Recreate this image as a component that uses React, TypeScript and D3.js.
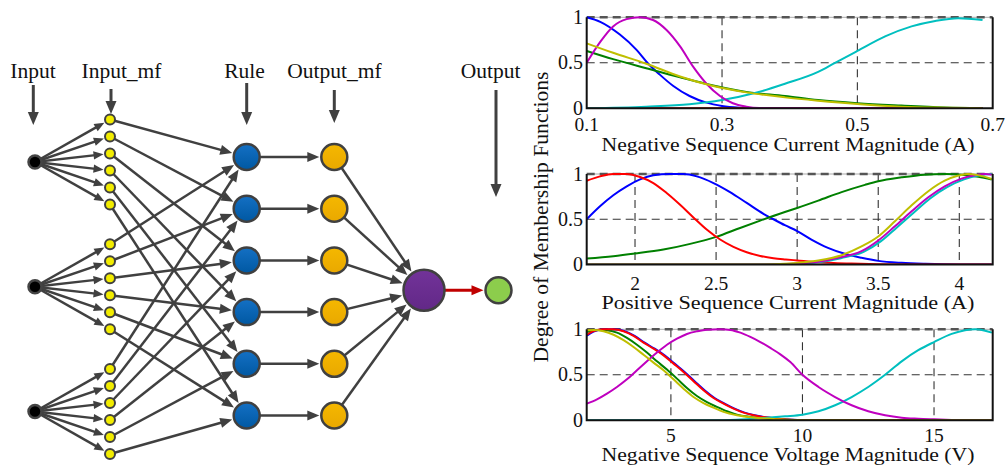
import React from 'react';
import * as d3 from 'd3';

const W = 1006;
const H = 468;

// ---------------- Diagram data ----------------
const LAYER_KEYS = ['in', 'mf', 'rule', 'omf', 'sum', 'out'];
const LAYER_LABELS = ['Input', 'Input_mf', 'Rule', 'Output_mf', 'Output'];
const LABEL_LAYER = ['in', 'mf', 'rule', 'omf', 'out'];
const INPUT_IDS = [0, 1, 2];
const MF_IDS = [0, 1, 2, 3, 4, 5];
const RULE_IDS = [0, 1, 2, 3, 4, 5];

// ---------------- Membership-function data ----------------
type Pt = [number, number];

const p1Blue: Pt[] = [[0.1, 1.0], [0.12, 0.95], [0.149, 0.81], [0.174, 0.64], [0.191, 0.49], [0.208, 0.37], [0.228, 0.245], [0.252, 0.135], [0.277, 0.062], [0.3, 0.026], [0.326, 0.007], [0.35, 0], [0.685, 0]];
const p1Green: Pt[] = [[0.1, 0.63], [0.139, 0.54], [0.188, 0.44], [0.238, 0.34], [0.287, 0.25], [0.336, 0.18], [0.393, 0.135], [0.442, 0.09], [0.5, 0.055], [0.565, 0.03], [0.63, 0.01], [0.685, 0.002]];
const p1Red: Pt[] = [[0.1, 0], [0.685, 0]];
const p1Cyan: Pt[] = [[0.1, 0], [0.188, 0.018], [0.252, 0.044], [0.3, 0.09], [0.35, 0.17], [0.393, 0.27], [0.442, 0.4], [0.467, 0.5], [0.5, 0.63], [0.541, 0.79], [0.58, 0.9], [0.615, 0.96], [0.649, 0.99], [0.685, 0.97]];
const p1Magenta: Pt[] = [[0.1, 0.5], [0.12, 0.73], [0.139, 0.9], [0.159, 0.98], [0.179, 1.0], [0.198, 0.97], [0.218, 0.86], [0.238, 0.68], [0.257, 0.46], [0.277, 0.27], [0.297, 0.135], [0.316, 0.055], [0.336, 0.018], [0.355, 0.003], [0.38, 0], [0.685, 0]];
const p1Yellow: Pt[] = [[0.1, 0.714], [0.139, 0.61], [0.188, 0.49], [0.238, 0.35], [0.287, 0.245], [0.336, 0.175], [0.393, 0.12], [0.442, 0.084], [0.5, 0.048], [0.565, 0.018], [0.63, 0.007], [0.685, 0.001]];

const p2Blue: Pt[] = [[1.702, 0.5], [1.784, 0.643], [1.866, 0.765], [1.949, 0.864], [2.031, 0.94], [2.113, 0.985], [2.216, 1.0], [2.298, 1.0], [2.381, 0.974], [2.484, 0.9], [2.586, 0.8], [2.689, 0.68], [2.792, 0.56], [2.854, 0.5], [2.924, 0.434], [3.0, 0.37], [3.088, 0.276], [3.19, 0.184], [3.294, 0.118], [3.397, 0.074], [3.5, 0.04], [3.644, 0.018], [3.79, 0.007], [4.0, 0], [4.2, 0]];
const p2Green: Pt[] = [[1.702, 0.066], [1.866, 0.092], [2.0, 0.121], [2.175, 0.165], [2.34, 0.228], [2.5, 0.305], [2.648, 0.404], [2.772, 0.485], [2.924, 0.58], [3.0, 0.625], [3.13, 0.706], [3.274, 0.8], [3.418, 0.88], [3.5, 0.92], [3.644, 0.963], [3.788, 0.993], [3.91, 1.0], [4.035, 0.99], [4.117, 0.97], [4.2, 0.94]];
const p2Red: Pt[] = [[1.702, 0.926], [1.784, 0.974], [1.866, 1.0], [1.949, 1.0], [2.031, 0.967], [2.113, 0.9], [2.195, 0.79], [2.278, 0.66], [2.36, 0.52], [2.442, 0.386], [2.525, 0.276], [2.607, 0.195], [2.689, 0.136], [2.772, 0.095], [2.854, 0.07], [2.93, 0.056], [3.0, 0.045], [3.13, 0.025], [3.335, 0.01], [3.5, 0.003], [3.7, 0], [4.2, 0]];
const p2Cyan: Pt[] = [[1.702, 0], [2.8, 0], [3.0, 0.008], [3.13, 0.025], [3.27, 0.07], [3.41, 0.14], [3.515, 0.255], [3.615, 0.41], [3.72, 0.575], [3.82, 0.73], [3.925, 0.855], [4.03, 0.94], [4.11, 0.98], [4.17, 0.997], [4.2, 1.0]];
const p2Magenta: Pt[] = [[1.702, 0], [2.8, 0], [3.0, 0.011], [3.13, 0.03], [3.253, 0.074], [3.397, 0.147], [3.5, 0.265], [3.603, 0.423], [3.706, 0.588], [3.809, 0.743], [3.91, 0.864], [4.014, 0.949], [4.097, 0.985], [4.158, 1.0], [4.2, 0.993]];
const p2Yellow: Pt[] = [[1.702, 0], [2.8, 0], [2.924, 0.007], [3.0, 0.018], [3.13, 0.044], [3.274, 0.103], [3.397, 0.2], [3.5, 0.31], [3.603, 0.478], [3.706, 0.654], [3.809, 0.81], [3.91, 0.926], [3.99, 0.98], [4.05, 1.0], [4.12, 0.985], [4.2, 0.945]];

const p3Blue: Pt[] = [[1.806, 0.93], [2.06, 0.975], [2.5, 1.0], [2.9, 1.0], [3.25, 0.978], [3.62, 0.927], [4.0, 0.853], [4.38, 0.787], [4.76, 0.714], [5.14, 0.623], [5.52, 0.531], [5.9, 0.43], [6.28, 0.33], [6.66, 0.245], [7.04, 0.183], [7.42, 0.128], [7.8, 0.084], [8.18, 0.055], [8.7, 0.03], [9.2, 0.015], [9.6, 0.007], [10.5, 0], [17.2, 0]];
const p3Green: Pt[] = [[1.806, 0.97], [2.19, 0.993], [2.57, 0.99], [2.95, 0.963], [3.33, 0.905], [3.71, 0.83], [4.09, 0.744], [4.47, 0.648], [4.85, 0.557], [5.23, 0.458], [5.61, 0.355], [5.99, 0.267], [6.37, 0.2], [6.75, 0.147], [7.13, 0.099], [7.51, 0.062], [8.02, 0.037], [8.65, 0.018], [9.41, 0.007], [10.3, 0], [17.2, 0]];
const p3Red: Pt[] = [[1.806, 0.94], [2.06, 0.98], [2.44, 1.0], [2.82, 1.0], [3.2, 0.978], [3.58, 0.927], [3.96, 0.853], [4.34, 0.787], [4.72, 0.714], [5.1, 0.623], [5.48, 0.531], [5.86, 0.43], [6.24, 0.33], [6.62, 0.245], [7.0, 0.183], [7.38, 0.128], [7.76, 0.084], [8.14, 0.055], [8.65, 0.03], [9.16, 0.015], [9.54, 0.007], [10.5, 0], [17.2, 0]];
const p3Cyan: Pt[] = [[1.806, 0], [6.5, 0], [7.5, 0.006], [8.0, 0.015], [8.65, 0.028], [9.34, 0.044], [10.0, 0.062], [10.61, 0.099], [11.24, 0.165], [11.87, 0.256], [12.5, 0.366], [13.14, 0.5], [13.77, 0.648], [14.4, 0.77], [15.0, 0.86], [15.67, 0.95], [16.18, 0.99], [16.56, 1.0], [16.94, 0.985], [17.2, 0.963]];
const p3Magenta: Pt[] = [[1.806, 0.183], [2.19, 0.23], [2.57, 0.293], [2.95, 0.366], [3.33, 0.45], [3.71, 0.55], [4.09, 0.648], [4.47, 0.744], [4.85, 0.83], [5.23, 0.897], [5.61, 0.949], [5.99, 0.978], [6.37, 0.996], [6.88, 1.0], [7.26, 0.993], [7.64, 0.963], [8.02, 0.916], [8.4, 0.86], [8.78, 0.795], [9.16, 0.725], [9.54, 0.64], [10.0, 0.5], [10.61, 0.366], [11.24, 0.256], [11.87, 0.165], [12.5, 0.099], [13.14, 0.055], [13.77, 0.029], [14.4, 0.018], [15.0, 0.011], [15.67, 0.004], [16.3, 0], [17.2, 0]];
const p3Yellow: Pt[] = [[1.806, 0.99], [2.06, 0.993], [2.44, 0.978], [2.82, 0.94], [3.2, 0.88], [3.58, 0.806], [3.96, 0.72], [4.34, 0.634], [4.72, 0.55], [5.1, 0.45], [5.48, 0.348], [5.86, 0.256], [6.24, 0.19], [6.62, 0.139], [7.0, 0.092], [7.51, 0.055], [8.14, 0.03], [8.9, 0.015], [9.54, 0.004], [10.5, 0], [17.2, 0]];

const SERIES_COLORS = ['#0000ff', '#008000', '#ff0000', '#00bfbf', '#bf00bf', '#bfbf00'];

const p1XTicks = [0.1, 0.3, 0.5, 0.7];
const p2XTicks = [2, 2.5, 3, 3.5, 4];
const p3XTicks = [5, 10, 15];
const yTicks = [0, 0.5, 1];

const plots = [
  {
    top: 17.3, bottom: 108.3, domain: [0.1, 0.7], ticks: p1XTicks, fmt: (v: number) => v.toFixed(1),
    tickBase: 131, label: 'Negative Sequence Current Magnitude (A)', labelBase: 150.5,
    series: [p1Blue, p1Green, p1Red, p1Cyan, p1Magenta, p1Yellow],
  },
  {
    top: 174, bottom: 264.5, domain: [1.702, 4.206], ticks: p2XTicks, fmt: (v: number) => String(v),
    tickBase: 289.5, label: 'Positive Sequence Current Magnitude (A)', labelBase: 309,
    series: [p2Blue, p2Green, p2Red, p2Cyan, p2Magenta, p2Yellow],
  },
  {
    top: 329.3, bottom: 420.3, domain: [1.8, 17.23], ticks: p3XTicks, fmt: (v: number) => String(v),
    tickBase: 441.5, label: 'Negative Sequence Voltage Magnitude (V)', labelBase: 461,
    series: [p3Blue, p3Green, p3Red, p3Cyan, p3Magenta, p3Yellow],
  },
];

const PLOT_LEFT = 586.7;
const PLOT_RIGHT = 992.7;
const FONT = "'Liberation Serif', 'Times New Roman', serif";

function Arrow({ x1, y1, x2, y2, r1 = 0, r2 = 0, color = '#404040', width = 2.5, hl = 12, hw = 5 }:
  { x1: number; y1: number; x2: number; y2: number; r1?: number; r2?: number; color?: string; width?: number; hl?: number; hw?: number }) {
  const dx = x2 - x1, dy = y2 - y1;
  const len = Math.hypot(dx, dy);
  const ux = dx / len, uy = dy / len;
  const sx = x1 + ux * r1, sy = y1 + uy * r1;
  const tx = x2 - ux * r2, ty = y2 - uy * r2;
  const bx = tx - ux * hl, by = ty - uy * hl;
  const px = -uy, py = ux;
  const head = `M${tx},${ty}L${bx + px * hw},${by + py * hw}L${bx - px * hw},${by - py * hw}Z`;
  return (
    <g>
      <line x1={sx} y1={sy} x2={bx + ux * 2} y2={by + uy * 2} stroke={color} strokeWidth={width} />
      <path d={head} fill={color} />
    </g>
  );
}

function Diagram() {
  const layerX = d3.scaleOrdinal<string, number>().domain(LAYER_KEYS).range([35, 110, 246.7, 334.3, 424, 498.5]);
  const inputY = d3.scalePoint<number>().domain(INPUT_IDS).range([162, 411.5]);
  const mfOff = d3.scalePoint<number>().domain(MF_IDS).range([-42.5, 42.5]);
  const ruleY = d3.scalePoint<number>().domain(RULE_IDS).range([157, 415.5]);
  const sumY = (ruleY(2)! + ruleY(3)!) / 2 + 4;
  const R = { in: 6.5, mf: 5, rule: 13, omf: 13, sum: 20.5, out: 13 };
  const stroke = '#404040';

  const mfNodes = INPUT_IDS.flatMap((g) => MF_IDS.map((k) => ({ g, k, y: inputY(g)! + mfOff(k)! })));

  const labelArrows = [
    { key: 'in', y1: 85, y2: 125 },
    { key: 'mf', y1: 89, y2: 114 },
    { key: 'rule', y1: 83, y2: 125 },
    { key: 'omf', y1: 90, y2: 123 },
    { key: 'out', y1: 90, y2: 197 },
  ];
  const labelX: Record<string, number> = { in: 33, mf: 121.5, rule: 244.5, omf: 334.5, out: 490.5 };
  const arrowX: Record<string, number> = { in: 33.3, mf: 111, rule: 246.7, omf: 334.3, out: 496 };

  return (
    <g>
      {LAYER_LABELS.map((t, i) => (
        <text key={t} x={labelX[LABEL_LAYER[i]]} y={77.7} textAnchor="middle" fontFamily={FONT} fontSize={21.5} fill="#111">{t}</text>
      ))}
      {labelArrows.map((a) => (
        <Arrow key={a.key} x1={arrowX[a.key]} y1={a.y1} x2={arrowX[a.key]} y2={a.y2} width={3} hl={13} hw={5.5} />
      ))}
      {mfNodes.map((m) => (
        <Arrow key={`im${m.g}${m.k}`} x1={layerX('in')} y1={inputY(m.g)!} x2={layerX('mf')} y2={m.y} r1={0} r2={R.mf + 1.5} hl={10} hw={4.2} />
      ))}
      {mfNodes.map((m) => (
        <Arrow key={`mr${m.g}${m.k}`} x1={layerX('mf')} y1={m.y} x2={layerX('rule')} y2={ruleY(m.k)!} r1={0} r2={R.rule + 2} hl={12} hw={5} />
      ))}
      {RULE_IDS.map((k) => (
        <Arrow key={`ro${k}`} x1={layerX('rule')} y1={ruleY(k)!} x2={layerX('omf')} y2={ruleY(k)!} r1={0} r2={R.omf + 2} hl={12} hw={5} />
      ))}
      {RULE_IDS.map((k) => (
        <Arrow key={`os${k}`} x1={layerX('omf')} y1={ruleY(k)!} x2={layerX('sum')} y2={sumY} r1={0} r2={R.sum + 2} hl={12} hw={5} />
      ))}
      <Arrow x1={layerX('sum')} y1={sumY} x2={layerX('out')} y2={sumY} r1={R.sum} r2={R.out + 2} color="#c00000" width={3} hl={12} hw={5} />

      {INPUT_IDS.map((g) => (
        <circle key={`in${g}`} cx={layerX('in')} cy={inputY(g)} r={R.in} fill="#000" stroke="#444" strokeWidth={2.5} />
      ))}
      {mfNodes.map((m) => (
        <circle key={`mf${m.g}${m.k}`} cx={layerX('mf')} cy={m.y} r={R.mf} fill="#f2ec00" stroke={stroke} strokeWidth={2} />
      ))}
      {RULE_IDS.map((k) => (
        <circle key={`r${k}`} cx={layerX('rule')} cy={ruleY(k)} r={R.rule} fill="url(#gBlue)" stroke={stroke} strokeWidth={2.5} />
      ))}
      {RULE_IDS.map((k) => (
        <circle key={`o${k}`} cx={layerX('omf')} cy={ruleY(k)} r={R.omf} fill="url(#gOrange)" stroke={stroke} strokeWidth={2.5} />
      ))}
      <circle cx={layerX('sum')} cy={sumY} r={R.sum} fill="url(#gPurple)" stroke={stroke} strokeWidth={2.5} />
      <circle cx={layerX('out')} cy={sumY} r={R.out} fill="#8ccd4c" stroke={stroke} strokeWidth={2.5} />
    </g>
  );
}

function MFPlot({ p, idx }: { p: typeof plots[number]; idx: number }) {
  const x = d3.scaleLinear().domain(p.domain).range([PLOT_LEFT, PLOT_RIGHT]);
  const y = d3.scaleLinear().domain([0, 1]).range([p.bottom, p.top]);
  const line = d3.line<Pt>().x((d) => x(d[0])).y((d) => y(d[1])).curve(d3.curveMonotoneX);
  const clipId = `clip${idx}`;
  return (
    <g>
      <defs>
        <clipPath id={clipId}>
          <rect x={PLOT_LEFT} y={p.top - 1.5} width={PLOT_RIGHT - PLOT_LEFT} height={p.bottom - p.top + 2} />
        </clipPath>
      </defs>
      {p.ticks.filter((t) => x(t) > PLOT_LEFT + 2 && x(t) < PLOT_RIGHT - 2).map((t) => (
        <line key={`gx${t}`} x1={x(t)} x2={x(t)} y1={p.top} y2={p.bottom} stroke="#333" strokeWidth={1.1} strokeDasharray="8,5" />
      ))}
      {yTicks.filter((t) => t > 0 && t < 1).map((t) => (
        <line key={`gy${t}`} x1={PLOT_LEFT} x2={PLOT_RIGHT} y1={y(t)} y2={y(t)} stroke="#333" strokeWidth={1.1} strokeDasharray="8,5" />
      ))}
      <line x1={PLOT_LEFT} x2={PLOT_RIGHT} y1={p.top} y2={p.top} stroke="#aaa" strokeWidth={1} />
      <line x1={PLOT_LEFT} x2={PLOT_RIGHT} y1={p.top} y2={p.top} stroke="#555" strokeWidth={2.6} strokeDasharray="8,5" />
      <g clipPath={`url(#${clipId})`}>
        {p.series.map((s, i) => (
          <path key={i} d={line(s) || ''} fill="none" stroke={SERIES_COLORS[i]} strokeWidth={2} />
        ))}
      </g>
      <path d={`M${PLOT_LEFT},${p.top}V${p.bottom}H${PLOT_RIGHT}V${p.top}`} fill="none" stroke="#111" strokeWidth={2} />
      {p.ticks.map((t) => (
        <text key={`tx${t}`} x={x(t)} y={p.tickBase} textAnchor="middle" fontFamily={FONT} fontSize={19.5} fill="#111">{p.fmt(t)}</text>
      ))}
      {yTicks.map((t) => (
        <text key={`ty${t}`} x={583} y={y(t) + 6.5} textAnchor="end" fontFamily={FONT} fontSize={20} fill="#111">{String(t)}</text>
      ))}
      <text x={788} y={p.labelBase} textAnchor="middle" fontFamily={FONT} fontSize={19.5} fill="#111"
        textLength={373} lengthAdjust="spacingAndGlyphs">{p.label}</text>
    </g>
  );
}

export default function App() {
  return (
    <svg width={W} height={H} viewBox={`0 0 ${W} ${H}`} style={{ position: 'absolute', left: 0, top: 0, background: '#fff' }}>
      <defs>
        <linearGradient id="gBlue" x1="0" y1="0" x2="0" y2="1">
          <stop offset="0" stopColor="#1470c4" />
          <stop offset="1" stopColor="#0058a2" />
        </linearGradient>
        <linearGradient id="gOrange" x1="0" y1="0" x2="0" y2="1">
          <stop offset="0" stopColor="#f5b800" />
          <stop offset="1" stopColor="#e9a800" />
        </linearGradient>
        <linearGradient id="gPurple" x1="0" y1="0" x2="0" y2="1">
          <stop offset="0" stopColor="#723399" />
          <stop offset="1" stopColor="#622887" />
        </linearGradient>
      </defs>
      <rect x={0} y={0} width={W} height={H} fill="#fff" />
      <Diagram />
      {plots.map((p, i) => (
        <MFPlot key={i} p={p} idx={i} />
      ))}
      <text transform="translate(548,217) rotate(-90)" textAnchor="middle" fontFamily={FONT} fontSize={21} fill="#111"
        textLength={291} lengthAdjust="spacingAndGlyphs">Degree of Membership Functions</text>
    </svg>
  );
}
